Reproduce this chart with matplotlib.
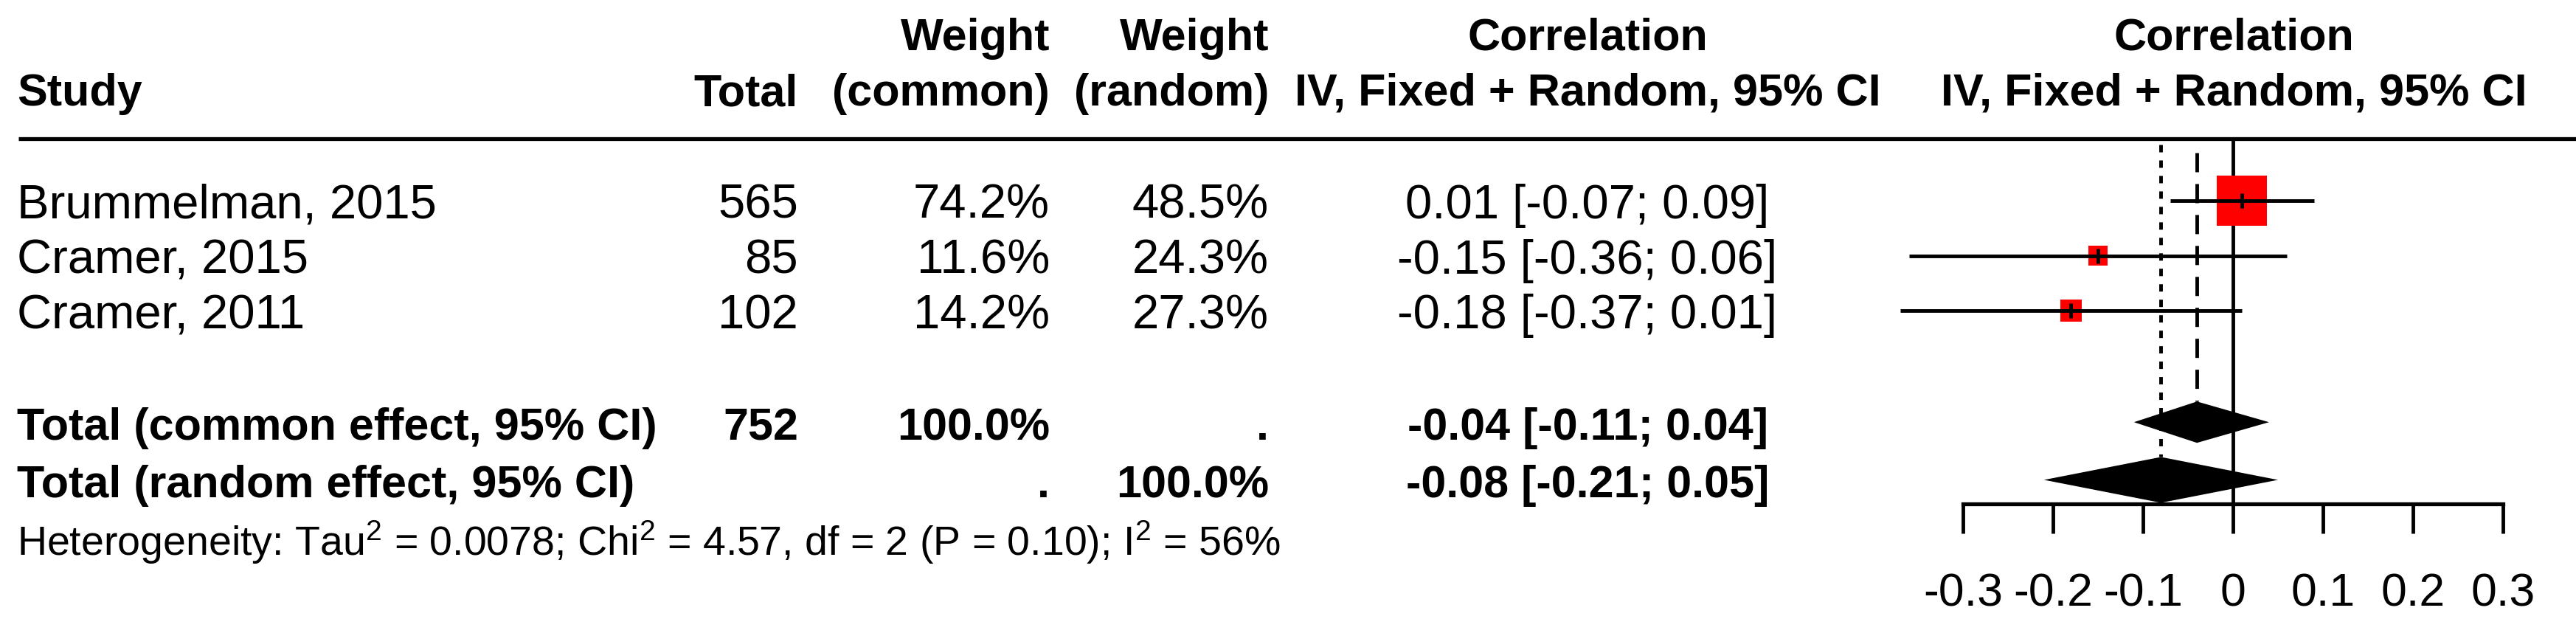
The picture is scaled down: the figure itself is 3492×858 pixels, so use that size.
import numpy as np
import matplotlib
matplotlib.use('Agg')
import matplotlib.pyplot as plt

plt.rcParams['font.family'] = ['Liberation Sans', 'DejaVu Sans']
plt.rcParams['mathtext.fontset'] = 'custom'
plt.rcParams['mathtext.rm'] = 'Liberation Sans'
plt.rcParams['mathtext.it'] = 'Liberation Sans'
plt.rcParams['axes.unicode_minus'] = False
plt.rcParams['lines.scale_dashes'] = False

# data
studies = ['Brummelman, 2015', 'Cramer, 2015', 'Cramer, 2011']
totals = [565, 85, 102]
w_common = [74.2, 11.6, 14.2]
w_random = [48.5, 24.3, 27.3]
est = [0.01, -0.15, -0.18]
ci_lo = [-0.07, -0.36, -0.37]
ci_hi = [0.09, 0.06, 0.01]
total_n = 752
common_est, common_lo, common_hi = -0.04, -0.11, 0.04
random_est, random_lo, random_hi = -0.08, -0.21, 0.05
tau2, chi2, df, pval, i2 = 0.0078, 4.57, 2, 0.10, 56
xticks = [-0.3, -0.2, -0.1, 0, 0.1, 0.2, 0.3]

# layout (pixels of the 3492x858 canvas)
W, H = 3492, 858
Y0, ROW = 272, 74.5


def row_of(px):
    return (px - Y0) / ROW


X_STUDY, X_TOTAL, X_WC, X_WR, X_CI, X_HEAD2 = 23, 1082, 1423, 1720, 2152, 3028
FX_LEFT, FX_RIGHT = 2661, 3393
BASE = 24 / ROW
FS, FS_B, FS_HET, FS_TICK = 47, 44, 40, 45
LW = 3.5

fig = plt.figure(figsize=(W / 100, H / 100), dpi=100)
ax = fig.add_axes([0, 0, 1, 1])
ax.set_xlim(0, W)
ax.set_ylim(row_of(H), row_of(0))
ax.axis('off')

# headers
ax.text(X_WC, row_of(68), 'Weight', ha='right', va='baseline', fontsize=FS_B, fontweight='bold')
ax.text(X_WR, row_of(68), 'Weight', ha='right', va='baseline', fontsize=FS_B, fontweight='bold')
ax.text(X_CI, row_of(68), 'Correlation', ha='center', va='baseline', fontsize=FS_B, fontweight='bold')
ax.text(X_HEAD2, row_of(68), 'Correlation', ha='center', va='baseline', fontsize=FS_B, fontweight='bold')
ax.text(X_STUDY, row_of(143), 'Study', ha='left', va='baseline', fontsize=FS_B, fontweight='bold')
ax.text(X_TOTAL, row_of(143), 'Total', ha='right', va='baseline', fontsize=FS_B, fontweight='bold')
ax.text(X_WC, row_of(143), '(common)', ha='right', va='baseline', fontsize=FS_B, fontweight='bold')
ax.text(X_WR, row_of(143), '(random)', ha='right', va='baseline', fontsize=FS_B, fontweight='bold')
for xc in (X_CI, X_HEAD2):
    ax.text(xc, row_of(143), 'IV, Fixed + Random, 95% CI', ha='center', va='baseline',
            fontsize=FS_B, fontweight='bold')
ax.plot([25, W], [row_of(188), row_of(188)], color='black', lw=3.8, solid_capstyle='butt')

# study rows
rows = np.arange(len(studies))
for r, s, n, wc, wr, e, l, h in zip(rows, studies, totals, w_common, w_random, est, ci_lo, ci_hi):
    y = r + BASE
    ax.text(X_STUDY, y, s, ha='left', va='baseline', fontsize=FS)
    ax.text(X_TOTAL, y, str(n), ha='right', va='baseline', fontsize=FS)
    ax.text(X_WC, y, f'{wc:.1f}%', ha='right', va='baseline', fontsize=FS)
    ax.text(X_WR, y, f'{wr:.1f}%', ha='right', va='baseline', fontsize=FS)
    ax.text(X_CI, y, f'{e:.2f} [{l:.2f}; {h:.2f}]', ha='center', va='baseline', fontsize=FS)

# summary rows
y_com, y_ran = 4.03, 5.08
ax.text(X_STUDY, y_com + BASE, 'Total (common effect, 95% CI)', ha='left', va='baseline', fontsize=FS_B, fontweight='bold')
ax.text(X_TOTAL, y_com + BASE, str(total_n), ha='right', va='baseline', fontsize=FS_B, fontweight='bold')
ax.text(X_WC, y_com + BASE, '100.0%', ha='right', va='baseline', fontsize=FS_B, fontweight='bold')
ax.text(X_WR, y_com + BASE, '.', ha='right', va='baseline', fontsize=FS_B, fontweight='bold')
ax.text(X_CI, y_com + BASE, f'{common_est:.2f} [{common_lo:.2f}; {common_hi:.2f}]', ha='center',
        va='baseline', fontsize=FS_B, fontweight='bold')
ax.text(X_STUDY, y_ran + BASE, 'Total (random effect, 95% CI)', ha='left', va='baseline', fontsize=FS_B, fontweight='bold')
ax.text(X_WC, y_ran + BASE, '.', ha='right', va='baseline', fontsize=FS_B, fontweight='bold')
ax.text(X_WR, y_ran + BASE, '100.0%', ha='right', va='baseline', fontsize=FS_B, fontweight='bold')
ax.text(X_CI, y_ran + BASE, f'{random_est:.2f} [{random_lo:.2f}; {random_hi:.2f}]', ha='center',
        va='baseline', fontsize=FS_B, fontweight='bold')
het = (f'Heterogeneity: Tau$^2$ = {tau2:.4f}; Chi$^2$ = {chi2:.2f}, df = {df} '
       f'(P = {pval:.2f}); I$^2$ = {i2}%')
ax.text(X_STUDY, row_of(753), het, ha='left', va='baseline', fontsize=FS_HET)

# forest panel
fx = fig.add_axes([FX_LEFT / W, 0, (FX_RIGHT - FX_LEFT) / W, 1])
fx.set_xlim(-0.3, 0.3)
fx.set_ylim(row_of(H), row_of(0))
fx.patch.set_visible(False)

fx.vlines(0, row_of(188), row_of(683), color='black', lw=LW, zorder=1)
h_com, h_ran = 56 / ROW, 62 / ROW
fx.vlines(random_est, row_of(196), y_ran - h_ran / 2, color='black', lw=LW,
          linestyle=(0, (7.2, 7.9)), zorder=1)
fx.vlines(common_est, row_of(207), y_com - h_com / 2, color='black', lw=LW,
          linestyle=(0, (18.7, 11.5)), zorder=1)

side_pt = 68 * 0.72 * np.sqrt(np.array(w_common) / max(w_common))
fx.scatter(est, rows, s=side_pt ** 2, marker='s', color='#ff0000', linewidths=0, zorder=3, clip_on=False)
fx.hlines(rows, ci_lo, ci_hi, color='black', lw=LW, zorder=4, clip_on=False)
fx.scatter(est, rows, s=15 ** 2, marker='|', color='black', linewidths=LW, zorder=5, clip_on=False)

fx.fill([common_lo, common_est, common_hi, common_est],
        [y_com, y_com - h_com / 2, y_com, y_com + h_com / 2], color='black', lw=0, zorder=6)
fx.fill([random_lo, random_est, random_hi, random_est],
        [y_ran, y_ran - h_ran / 2, y_ran, y_ran + h_ran / 2], color='black', lw=0, zorder=6)

for side in ('top', 'left', 'right'):
    fx.spines[side].set_visible(False)
fx.spines['bottom'].set_position(('data', row_of(683)))
fx.spines['bottom'].set_linewidth(3.8)
fx.set_yticks([])
fx.set_xticks(xticks)
fx.set_xticklabels([f'{t:g}' for t in xticks])
fx.tick_params(axis='x', direction='out', length=28.8, width=LW, pad=38, labelsize=FS_TICK)

fig.savefig('out.png', dpi=100)
